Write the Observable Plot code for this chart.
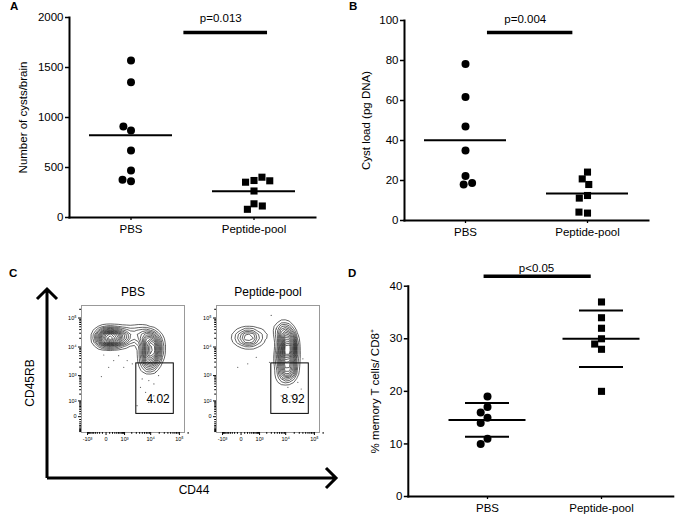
<!DOCTYPE html>
<html><head><meta charset="utf-8">
<script src="https://cdn.jsdelivr.net/npm/d3@7"></script>
<script src="https://cdn.jsdelivr.net/npm/@observablehq/plot@0.6"></script>
<style>
body{margin:0;background:#fff;}
#fig{position:relative;width:682px;height:522px;overflow:hidden;font-family:"Liberation Sans",Arial,Helvetica,sans-serif;}
.panel{position:absolute;}
</style></head><body><div id="fig"></div>
<script>
// ---------- data ----------
const groups = ["PBS", "Peptide-pool"];
// A: number of cysts/brain
const cystsPBS = [1570, 1353, 870, 910, 670, 470, 363, 377];
const cystsPeptide = [370, 353, 403, 367, 265, 137, 82, 115];
const cystsTicks = [0, 500, 1000, 1500, 2000];
const cystsSig = {y: 1850, label: "p=0.013"};
// B: cyst load (pg DNA)
const loadPBS = [78.3, 61.7, 47, 35, 22.2, 18, 18.8];
const loadPeptide = [24.2, 20.8, 18, 12.5, 11.2, 3.7, 4.2];
const loadTicks = [0, 20, 40, 60, 80, 100];
const loadSig = {y: 94, label: "p=0.004"};
// D: % memory T cells / CD8+
const memPBS = [19, 17, 15, 16, 14, 11, 10];
const memPeptide = [37, 34, 32, 30, 29, 28, 20];
const memTicks = [0, 10, 20, 30, 40];
const memSig = {y: 41.9, label: "p<0.05"};
// C: flow cytometry (CD44 vs CD45RB), density seeds [CD44, CD45RB, weight]
const flowPBSDensity = [
  [-120, 21300, 5], [35, 21300, 9], [250, 21300, 8], [700, 22000, 5], [1800, 25000, 3],
  [4500, 27000, 3], [9900, 23000, 4], [10700, 13000, 8], [10700, 7000, 10], [9900, 3800, 6], [8400, 2300, 2.5]
];
const flowPeptideDensity = [
  [-50, 21300, 2], [200, 21300, 4.5], [650, 20500, 2], [1700, 25000, 1], [8400, 37000, 4],
  [11600, 17500, 8], [11600, 8000, 10], [10700, 3800, 8], [11600, 1700, 6], [9900, 900, 2.5]
];
const flowPBSEvents = [
  [-60, 5300], [250, 3400], [515, 5000], [1300, 3400], [2100, 2600], [-135, 920], [70, 1970],
  [920, 1970], [4950, 760], [8600, 660], [13000, 500], [19000, 1000], [6600, 236], [13000, 170],
  [25000, 3900], [33000, 11000], [8600, 84], [3200, 56], [14800, 1300], [4300, 370]
];
const flowPeptideEvents = [
  [700, 4400], [2550, 2960], [210, 2600], [7900, 760], [26700, 570], [35000, 320], [12000, 370],
  [15700, 170], [5200, 1970], [4600, 42500], [-90, 1970], [6900, 170], [23500, 1700], [40000, 3900], [2970, 123000]
];
const flowGates = [
  {sample: "PBS", x1: 3000, x2: 64000, y1: 10, y2: 2700, pct: "4.02"},
  {sample: "Peptide-pool", x1: 3000, x2: 64000, y1: 10, y2: 2700, pct: "8.92"}
];
const flowXMajor = [-1000, 0, 1000, 10000, 100000];
const flowYMajor = [0, 100, 1000, 10000, 100000];
const flowXMinor = [-900,-800,-700,-600,-500,-400,-300,-200,-100,100,200,300,400,500,600,700,800,900,
  2000,3000,4000,5000,6000,7000,8000,9000,20000,30000,40000,50000,60000,70000,80000,90000,200000];
const flowYMinor = [-90,-80,-70,-60,-50,-40,-30,-20,-10,10,20,30,40,50,60,70,80,90,
  200,300,400,500,600,700,800,900,2000,3000,4000,5000,6000,7000,8000,9000,20000,30000,40000,50000,60000,70000,80000,90000,200000];

// ---------- helpers ----------
const fig = document.getElementById("fig");
const FONT = "'Liberation Sans', Arial, Helvetica, sans-serif";
function place(node, left, top) {
  const d = document.createElement("div");
  d.className = "panel"; d.style.left = left + "px"; d.style.top = top + "px";
  d.appendChild(node); fig.appendChild(d);
}

function dotPanel(o) {
  const rows = groups.flatMap((g, i) => o.values[i].map(v => ({group: g, value: v})));
  const first = () => groups[0];
  const ext = o.axisExtend || [0, 0];
  const marks = [
    Plot.frame({anchor: "bottom", facet: "super", stroke: "black", strokeWidth: 2,
      insetLeft: -ext[0], insetRight: -ext[1]}),
    Plot.frame({anchor: "left", facet: "super", stroke: "black", strokeWidth: 2, insetLeft: -ext[0]}),
    Plot.axisY({ticks: o.ticks, tickFormat: d => String(d), tickSize: 4, tickPadding: 2, strokeWidth: 1.5,
      dx: -ext[0], label: o.label, labelAnchor: "center", labelArrow: "none", labelOffset: o.labelOffset}),
    Plot.axisFx({anchor: "bottom", tickSize: 3, tickPadding: 4, label: null, strokeWidth: 1.3}),
    Plot.ruleY(rows, Plot.groupZ({y: "mean"}, {fx: "group", y: "value", strokeWidth: 2,
      insetLeft: o.meanInset, insetRight: o.meanInset}))
  ];
  if (o.sd) {
    marks.push(
      Plot.ruleX(rows, Plot.groupZ(
        {y1: v => d3.mean(v) - d3.deviation(v), y2: v => d3.mean(v) + d3.deviation(v)},
        {fx: "group", y1: "value", y2: "value", strokeWidth: 2})),
      Plot.ruleY(rows, Plot.groupZ({y: v => d3.mean(v) + d3.deviation(v)},
        {fx: "group", y: "value", strokeWidth: 2, insetLeft: o.capInset, insetRight: o.capInset})),
      Plot.ruleY(rows, Plot.groupZ({y: v => d3.mean(v) - d3.deviation(v)},
        {fx: "group", y: "value", strokeWidth: 2, insetLeft: o.capInset, insetRight: o.capInset}))
    );
  }
  marks.push(
    Plot.dot(rows, Plot.dodgeX({anchor: "middle", padding: 0.6},
      {fx: "group", y: "value", r: 4, symbol: "group", fill: "black", stroke: "none"})),
    // significance bar, drawn from the first group's facet (x in units of group spacing)
    Plot.ruleY([o.sig], {fx: first, y: "y", x1: () => o.sigX1, x2: () => o.sigX2, strokeWidth: 3.5}),
    Plot.text([o.sig], {fx: first, y: "y", x: () => o.sigXText, text: "label", dy: o.sigDy, fontSize: 11.5})
  );
  return Plot.plot({
    width: o.width, height: o.height,
    marginLeft: o.ml, marginRight: o.mr, marginTop: o.mt, marginBottom: o.mb,
    style: {fontFamily: FONT, fontSize: "11.5px", color: "black", background: "transparent", overflow: "visible"},
    fx: Object.assign({domain: groups}, o.fx),
    x: {domain: [-0.5, 0.5], axis: null},
    y: {domain: o.yDomain},
    symbol: {domain: groups, range: ["circle", "square"]},
    marks
  });
}

const sup = {"0":"⁰","1":"¹","2":"²","3":"³","4":"⁴","5":"⁵","-":"⁻"};
const flowFmt = d => d === 0 ? "0" : (d < 0 ? "-" : "") + "10" + String(Math.round(Math.log10(Math.abs(d)))).split("").map(c => sup[c]).join("");

function flowPanel(o) {
  const gate = flowGates.filter(g => g.sample === o.title);
  return Plot.plot({
    width: 140, height: 180, marginLeft: 26, marginRight: 11, marginTop: 30, marginBottom: 23,
    style: {fontFamily: FONT, fontSize: "12px", color: "black", background: "transparent", overflow: "visible"},
    x: {type: "symlog", constant: 300, domain: [-1800, 150000]},
    y: {type: "symlog", constant: 40, domain: [-100, 270000]},
    marks: [
      Plot.frame({stroke: "#999", strokeWidth: 1}),
      Plot.density(o.seeds, {x: d => d[0], y: d => d[1], weight: d => d[2], bandwidth: 4.2, thresholds: 16,
        stroke: "#111", strokeWidth: 0.65}),
      Plot.dot(o.events, {x: d => d[0], y: d => d[1], r: 0.6, fill: "#555", stroke: "none"}),
      Plot.rect(gate, {x1: "x1", x2: "x2", y1: "y1", y2: "y2", fill: "none", stroke: "black", strokeWidth: 1}),
      Plot.text(gate, {x: "x2", y: "y1", text: "pct", textAnchor: "end", dx: -4, dy: -15, fontSize: 12}),
      Plot.axisX({ticks: flowXMajor, tickFormat: flowFmt, tickSize: 3, tickPadding: 2, fontSize: 5.5, label: null}),
      Plot.axisX({ticks: flowXMinor, tickSize: 1.8, text: null, label: null}),
      Plot.axisY({ticks: flowYMajor, tickFormat: flowFmt, tickSize: 3, tickPadding: 2, fontSize: 5.5, label: null}),
      Plot.axisY({ticks: flowYMinor, tickSize: 1.8, text: null, label: null}),
      Plot.text([o.title], {frameAnchor: "top", dy: -18, fontSize: 12})
    ]
  });
}

// ---------- panels ----------
place(dotPanel({
  values: [cystsPBS, cystsPeptide], yDomain: [0, 2000], ticks: cystsTicks, label: "Number of cysts/brain",
  width: 340, height: 240, ml: 68, mr: 25, mt: 17, mb: 23, fx: {padding: 0},
  labelOffset: 51, meanInset: 20, sig: cystsSig, sigX1: 0.43, sigX2: 1.11, sigXText: 0.73, sigDy: -14
}), 0, 0);

place(dotPanel({
  values: [loadPBS, loadPeptide], yDomain: [0, 100], ticks: loadTicks, label: "Cyst load (pg DNA)",
  width: 342, height: 240, ml: 63, mr: 34, mt: 20, mb: 20, fx: {padding: 0},
  labelOffset: 43, meanInset: 20, sig: loadSig, sigX1: 0.18, sigX2: 0.88, sigXText: 0.49, sigDy: -13
}), 340, 0);

place(dotPanel({
  values: [memPBS, memPeptide], yDomain: [0, 40], ticks: memTicks, label: "% memory T cells/ CD8⁺",
  width: 342, height: 262, ml: 68, mr: 9, mt: 25.7, mb: 26,
  fx: {paddingInner: 0, paddingOuter: 0.162, align: 0.6}, axisExtend: [22.2, 14.8],
  labelOffset: 60, meanInset: 18.5, sd: true, capInset: 35,
  sig: memSig, sigX1: -0.03, sigX2: 0.91, sigXText: 0.43, sigDy: -7.5
}), 340, 260);

place(flowPanel({title: "PBS", seeds: flowPBSDensity, events: flowPBSEvents}), 55, 275);
place(flowPanel({title: "Peptide-pool", seeds: flowPeptideDensity, events: flowPeptideEvents}), 190, 275);

// ---------- decorations: panel letters and C axes arrows ----------
const svg = d3.create("svg").attr("width", 682).attr("height", 522)
  .style("position", "absolute").style("left", 0).style("top", 0).style("pointer-events", "none")
  .style("font-family", FONT);
const letters = [["A", 10, 10], ["B", 349, 10], ["C", 9, 277], ["D", 348, 277]];
svg.selectAll("text.letter").data(letters).join("text").attr("class", "letter")
  .attr("x", d => d[1]).attr("y", d => d[2]).attr("font-size", 11.5).attr("font-weight", 900).text(d => d[0]);
svg.append("path").attr("d", "M47,478 V289 M37,299 L47,289 L57,299").attr("fill", "none")
  .attr("stroke", "black").attr("stroke-width", 3).attr("stroke-linejoin", "miter");
svg.append("path").attr("d", "M47,478 H336 M326,468 L336,478 L326,488").attr("fill", "none")
  .attr("stroke", "black").attr("stroke-width", 3).attr("stroke-linejoin", "miter");
svg.append("text").attr("transform", "translate(34,383) rotate(-90)").attr("text-anchor", "middle")
  .attr("font-size", 12).text("CD45RB");
svg.append("text").attr("x", 194).attr("y", 494).attr("text-anchor", "middle").attr("font-size", 12).text("CD44");
fig.appendChild(svg.node());
</script></body></html>
